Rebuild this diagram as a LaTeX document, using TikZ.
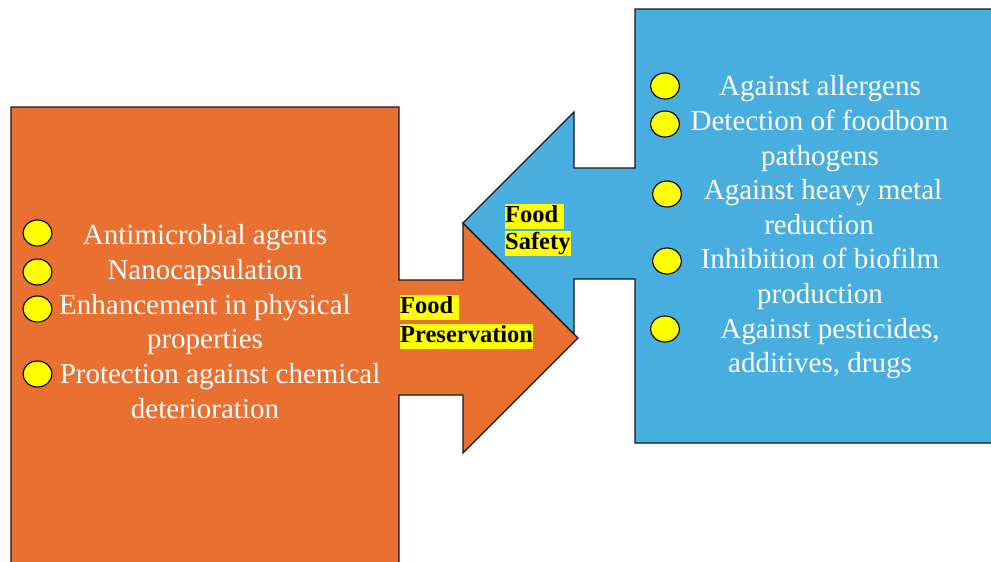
\documentclass[tikz,border=0pt]{standalone}
\usepackage{fontspec}
\setmainfont{Liberation Serif}
\usetikzlibrary{shapes.geometric}
\definecolor{orangebox}{RGB}{232,113,50}
\definecolor{bluebox}{RGB}{72,174,224}
\definecolor{hl}{RGB}{255,255,0}
\definecolor{bulyellow}{RGB}{255,255,0}
\tikzset{
  shapeline/.style={draw=black!90, line width=1.3pt, line join=miter},
  bul/.style={ellipse, draw=black, line width=1.1pt, fill=bulyellow, minimum width=29pt, minimum height=26pt, inner sep=0pt},
  txt/.style={anchor=base, text=white, inner sep=0pt, font=\fontsize{29}{35}\selectfont},
  lab/.style={anchor=base west, fill=hl, inner sep=0pt, text height=18pt, text depth=7pt, font=\fontsize{24.5}{28}\selectfont\bfseries}
}
\begin{document}
\begin{tikzpicture}[x=1pt, y=-1pt]
\clip (0,0) rectangle (991,562);
\fill[white] (0,0) rectangle (991,562);
% orange shape with right arrow
\filldraw[shapeline, fill=orangebox]
  (11,107) -- (399,107) -- (399,280) -- (463,280) -- (463,223) -- (578,338)
  -- (463,453) -- (463,395) -- (399,395) -- (399,600) -- (11,600) -- cycle;
% blue shape with left arrow
\filldraw[shapeline, fill=bluebox]
  (635,9) -- (1010,9) -- (1010,443) -- (635,443) -- (635,279) -- (574,279)
  -- (574,334) -- (463,223) -- (574,112) -- (574,168) -- (635,168) -- cycle;
% left bullets
\node[bul] (lb1) at (37.5,233) {};
\node[bul] (lb2) at (37.5,272) {};
\node[bul] (lb3) at (37.5,309) {};
\node[bul] (lb4) at (37.5,374) {};
% left texts
\node[txt] (lt1) at (205,244) {Antimicrobial agents};
\node[txt] (lt2) at (205,279) {Nanocapsulation};
\node[txt] (lt3) at (205,314) {Enhancement in physical};
\node[txt] (lt4) at (205,348) {properties};
\node[txt] (lt5) at (220,383) {Protection against chemical};
\node[txt] (lt6) at (205,418) {deterioration};
% right bullets
\node[bul] (rb1) at (665,86) {};
\node[bul] (rb2) at (665,124) {};
\node[bul] (rb3) at (667,194) {};
\node[bul] (rb4) at (667,261) {};
\node[bul] (rb5) at (665,329) {};
% right texts
\node[txt] (rt1) at (820,95) {Against allergens};
\node[txt] (rt2) at (819.5,130) {Detection of foodborn};
\node[txt] (rt3) at (820,165) {pathogens};
\node[txt] (rt4) at (823,199) {Against heavy metal};
\node[txt] (rt5) at (819,234) {reduction};
\node[txt] (rt6) at (820,268) {Inhibition of biofilm};
\node[txt] (rt7) at (820,303) {production};
\node[txt] (rt8) at (830,338) {Against pesticides,};
\node[txt] (rt9) at (820,372) {additives, drugs};
% labels
\node[lab] (fs1) at (505,222) {Food\kern6pt};
\node[lab] (fs2) at (505,249) {Safety};
\node[lab] (fp1) at (400,313) {Food\kern6pt};
\node[lab] (fp2) at (400,342) {Preservation};
\end{tikzpicture}
\end{document}
